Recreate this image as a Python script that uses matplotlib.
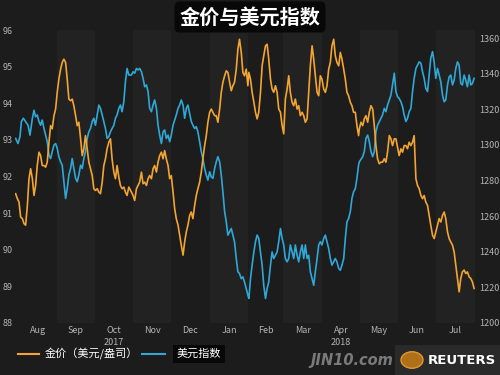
import datetime as dt
import numpy as np
import matplotlib
matplotlib.use("Agg")
import matplotlib.pyplot as plt
import matplotlib.dates as mdates
from matplotlib.patches import Rectangle, Circle
from matplotlib.lines import Line2D

plt.rcParams['font.family'] = ['Noto Sans CJK SC', 'DejaVu Sans']

title = "金价与美元指数"
gold_label = "金价（美元/盎司）"
dxy_label = "美元指数"
month_labels = ['Aug', 'Sep', 'Oct', 'Nov', 'Dec', 'Jan', 'Feb', 'Mar', 'Apr', 'May', 'Jun', 'Jul']
year_labels = ['2017', '2018']
left_ticks = [88, 89, 90, 91, 92, 93, 94, 95, 96]
right_ticks = [1200, 1220, 1240, 1260, 1280, 1300, 1320, 1340, 1360]

# days since 2017-08-01
dxy_days = [-2.3, -0.4, 1.2, 2.3, 3.9, 5.7, 7.6, 9.2, 11.1, 12.4, 13.7, 15.0, 16.4, 17.7, 19.0, 20.4,
            21.7, 23.0, 24.4, 25.7, 27.0, 28.4, 29.7, 31.0, 32.3, 33.7, 35.0, 36.3, 37.7, 39.0, 40.3,
            41.7, 43.0, 44.3, 45.7, 47.0, 48.3, 49.7, 51.0, 52.3, 53.6, 55.0, 56.3, 57.6, 59.0, 60.3,
            61.6, 63.0, 64.3, 65.6, 67.0, 68.3, 69.6, 70.9, 72.3, 73.6, 74.9, 76.3, 77.6, 78.9, 80.3,
            81.6, 82.9, 84.3, 85.6, 86.9, 88.3,
            90.4, 91.7, 93.0, 94.4, 95.7, 97.0, 98.4, 99.7, 101.0, 102.4, 103.7, 105.0, 106.4, 107.7,
            109.0, 110.4, 111.7, 113.0, 114.4, 115.7, 117.0, 118.3, 119.7, 121.0, 122.3, 123.7, 125.0,
            126.3, 127.7, 129.0, 130.3, 131.7, 133.0, 134.3, 135.6, 137.0, 138.3, 139.6, 141.0, 142.3,
            143.6, 145.0, 146.3, 147.6, 149.0, 150.3, 151.6, 153.0, 154.3, 155.6, 157.0, 158.3, 159.6,
            161.0, 162.3, 163.6, 165.0, 166.3, 167.6, 169.0, 170.3, 171.6, 172.9, 174.3, 175.6, 176.9,
            178.3, 179.6, 180.9, 182.3, 183.6,
            184.4, 185.7, 187.0, 188.4, 189.7, 191.0, 192.3, 193.7, 195.0, 196.3, 197.7, 199.0, 200.3,
            201.7, 203.0, 204.3, 205.7, 207.0, 208.3, 209.7, 211.0, 212.3, 213.6, 215.0, 216.3, 217.6,
            219.0, 220.3, 221.6, 223.0, 224.3, 225.6, 227.0, 228.3, 229.6, 231.0, 232.3, 233.6, 235.0,
            236.3, 237.6, 239.0, 240.3, 241.6, 242.9, 244.3, 245.6, 246.9, 248.3, 249.6, 250.9, 252.3,
            253.6, 254.9, 256.3, 257.6, 258.9, 260.3, 261.6, 262.9, 264.2, 265.6, 266.9, 268.2, 269.6,
            270.9, 272.2,
            272.8, 275.5, 276.8, 278.1, 279.5, 280.8, 282.1, 283.5, 284.8, 286.1, 287.4, 288.8, 290.1,
            291.4, 292.8, 294.1, 295.4, 296.8, 298.1, 299.4, 300.8, 302.1, 303.4, 304.7, 306.1, 307.4,
            308.7, 310.1, 311.4, 312.7, 314.1, 315.4, 316.7, 318.1, 319.4, 320.7, 322.1, 323.4, 324.7,
            326.0, 327.4, 328.7, 330.0, 331.4, 332.7, 334.0, 335.4, 336.7, 338.0, 339.4, 340.7, 342.0,
            343.4, 344.7, 346.0, 347.4, 348.7, 350.0, 351.4, 352.7, 354.0, 355.3, 356.7, 358.0, 359.3,
            360.7, 362.0, 363.3, 364.7]
dxy_vals = [93.04, 92.90, 93.09, 93.50, 93.59, 93.50, 93.40, 93.13, 93.59, 93.81, 93.63, 93.68, 93.50,
            93.40, 93.54, 93.31, 93.13, 92.95, 92.58, 92.49, 92.68, 92.86, 92.90, 92.77, 92.54, 92.40,
            92.31, 91.86, 91.40, 91.67, 92.04, 92.22, 92.49, 92.22, 91.95, 91.86, 92.04, 92.31, 92.22,
            92.49, 92.68, 93.04, 93.22, 93.31, 93.50, 93.59, 93.40, 93.68, 93.95, 93.86, 93.68, 93.50,
            93.31, 93.04, 93.09, 93.22, 93.31, 93.40, 93.59, 93.68, 93.86, 93.95, 93.77, 94.04, 94.59,
            94.95, 94.77,
            94.77, 94.86, 94.82, 94.95, 94.91, 94.95, 94.86, 94.68, 94.45, 94.50, 94.32, 93.86, 93.77,
            93.95, 94.09, 93.86, 93.40, 93.13, 92.90, 93.22, 93.27, 93.04, 93.13, 92.95, 93.13, 93.40,
            93.54, 93.68, 93.86, 93.95, 94.09, 93.95, 93.59, 93.86, 93.95, 93.72, 93.50, 93.40, 93.31,
            93.36, 93.22, 92.95, 92.68, 92.49, 92.22, 92.04, 91.90, 92.13, 91.99, 91.95, 92.22, 92.40,
            92.54, 92.40, 92.04, 91.58, 91.04, 90.76, 90.40, 90.49, 90.58, 90.40, 90.22, 89.76, 89.40,
            89.35, 89.21, 89.26, 89.12, 88.94, 88.76,
            88.67, 89.21, 89.58, 89.94, 90.22, 90.40, 90.31, 89.94, 89.58, 89.03, 88.67, 88.94, 89.12,
            89.58, 89.94, 89.76, 89.85, 89.94, 90.22, 90.58, 90.31, 90.13, 89.76, 89.67, 89.76, 90.13,
            89.94, 89.76, 90.13, 89.85, 89.67, 89.94, 90.13, 89.76, 90.13, 89.76, 89.85, 89.40, 89.21,
            89.03, 89.40, 89.76, 90.13, 90.22, 90.13, 90.31, 90.40, 90.22, 90.03, 89.76, 89.58, 89.67,
            89.76, 89.67, 89.49, 89.44, 89.58, 89.76, 90.31, 90.76, 90.85, 91.04, 91.40, 91.58, 91.67,
            91.95, 92.31,
            92.40, 92.54, 92.68, 93.04, 93.13, 92.95, 92.68, 92.54, 92.68, 93.22, 93.40, 93.50, 93.59,
            93.68, 93.86, 93.77, 93.95, 94.09, 94.22, 94.50, 94.82, 94.32, 94.18, 94.13, 94.04, 93.91,
            93.68, 93.50, 93.59, 93.77, 93.86, 94.32, 94.68, 94.95, 95.04, 95.13, 95.09, 94.86, 94.68,
            94.41, 94.32, 94.77, 95.23, 95.41, 95.13, 94.68, 94.95, 94.77, 94.59, 94.22, 94.04, 94.09,
            94.50, 94.72, 94.77, 94.50, 94.63, 94.95, 95.13, 95.04, 94.54, 94.50, 94.77, 94.63, 94.45,
            94.77, 94.50, 94.54, 94.68]

gold_days = [-2.3, -0.9, 0.4, 1.7, 3.1, 4.4, 5.7, 7.1, 8.4, 9.7, 11.1, 12.4, 13.7, 15.0, 16.4, 17.7,
             19.0, 20.4, 21.7, 23.0, 24.4, 25.7, 27.0, 28.4, 29.7, 31.0, 32.3, 33.7, 35.0, 36.3, 37.7,
             39.0, 40.3, 41.7, 43.0, 44.3, 45.7, 47.0, 48.3, 49.7, 51.0, 52.3, 53.6, 55.0, 56.3, 57.6,
             59.0, 60.3, 61.6, 63.0, 64.3, 65.6, 67.0, 68.3, 69.6, 70.9, 72.3, 73.6, 74.9, 76.3, 77.6,
             78.9, 80.3, 81.6, 82.9, 84.3, 85.6, 86.9, 88.3,
             90.4, 91.7, 93.0, 94.4, 95.7, 97.0, 98.4, 99.7, 101.0, 102.4, 103.7, 105.0, 106.4, 107.7,
             109.0, 110.4, 111.7, 113.0, 114.4, 115.7, 117.0, 118.3, 119.7, 121.0, 122.3, 123.7, 125.0,
             126.3, 127.7, 129.0, 130.3, 131.7, 133.0, 134.3, 135.6, 137.0, 138.3, 139.6, 141.0, 142.3,
             143.6, 145.0, 146.3, 147.6, 149.0, 150.3, 151.6, 153.0, 154.3, 155.6, 157.0, 158.3, 159.6,
             161.0, 162.3, 163.6, 165.0, 166.3, 167.6, 169.0, 170.3, 171.6, 172.9, 174.3, 175.6, 176.9,
             178.3, 179.6, 180.9, 182.3, 183.6,
             184.4, 185.7, 187.0, 188.4, 189.7, 191.0, 192.3, 193.7, 195.0, 196.3, 197.7, 199.0, 200.3,
             201.7, 203.0, 204.3, 205.7, 207.0, 208.3, 209.7, 211.0, 212.3, 213.6, 215.0, 216.3, 217.6,
             219.0, 220.3, 221.6, 223.0, 224.3, 225.6, 227.0, 228.3, 229.6, 231.0, 232.3, 233.6, 235.0,
             236.3, 237.6, 239.0, 240.3, 241.6, 242.9, 244.3, 245.6, 246.9, 248.3, 249.6, 250.9, 252.3,
             253.6, 254.9, 256.3, 257.6, 258.9, 260.3, 261.6, 262.9, 264.2, 265.6, 266.9, 268.2, 269.6,
             270.9, 272.2,
             272.8, 274.1, 275.5, 276.8, 278.1, 279.5, 280.8, 282.1, 283.5, 284.8, 286.1, 287.4, 288.8,
             290.1, 291.4, 292.8, 294.1, 295.4, 296.8, 298.1, 299.4, 300.8, 302.1, 303.4, 304.7, 306.1,
             307.4, 308.7, 310.1, 311.4, 312.7, 314.1, 315.4, 316.7, 318.1, 319.4, 320.7, 322.1, 323.4,
             324.7, 326.0, 327.4, 328.7, 330.0, 331.4, 332.7, 334.0, 335.4, 336.7, 338.0, 339.4, 340.7,
             342.0, 343.4, 344.7, 346.0, 347.4, 348.7, 350.0, 351.4, 352.7, 354.0, 355.3, 356.7, 358.0,
             359.3, 360.7, 362.0, 363.3, 364.7]
gold_vals = [1272.6, 1269.8, 1267.9, 1259.5, 1258.6, 1255.8, 1254.9, 1266.0, 1281.0, 1286.6, 1281.0,
             1271.6, 1277.2, 1288.4, 1295.9, 1294.0, 1288.4, 1288.4, 1287.5, 1290.3, 1301.5, 1310.8,
             1309.0, 1316.4, 1320.1, 1329.5, 1336.9, 1342.5, 1346.3, 1348.1, 1346.3, 1336.9, 1325.7,
             1324.8, 1325.7, 1322.0, 1316.4, 1310.8, 1312.7, 1303.4, 1294.0, 1297.8, 1305.2, 1297.8,
             1290.3, 1286.6, 1282.8, 1275.4, 1274.4, 1275.4, 1273.5, 1272.6, 1279.1, 1288.4, 1292.2,
             1297.8, 1301.5, 1303.4, 1292.2, 1284.7, 1281.0, 1288.4, 1281.9, 1277.2, 1275.4, 1276.3,
             1273.5, 1271.6, 1276.3,
             1273.5, 1271.6, 1268.8, 1275.4, 1277.2, 1279.1, 1284.7, 1278.2, 1279.1, 1277.2, 1281.0,
             1282.8, 1281.0, 1286.6, 1288.4, 1284.7, 1290.3, 1294.0, 1295.9, 1292.2, 1296.8, 1292.2,
             1288.4, 1281.0, 1282.8, 1273.5, 1264.2, 1258.6, 1254.9, 1249.3, 1243.7, 1238.1, 1245.5,
             1251.1, 1254.9, 1260.4, 1262.3, 1258.6, 1266.0, 1271.6, 1275.4, 1279.1, 1284.7, 1292.2,
             1299.6, 1305.2, 1312.7, 1318.3, 1320.1, 1318.3, 1316.4, 1316.4, 1312.7, 1320.1, 1329.5,
             1335.1, 1338.8, 1341.6, 1340.7, 1335.1, 1330.4, 1333.2, 1335.1, 1342.5, 1353.7, 1359.3,
             1351.9, 1340.7, 1338.8, 1342.5, 1333.2,
             1340.7, 1336.9, 1329.5, 1323.9, 1318.3, 1314.6, 1318.3, 1329.5, 1344.4, 1350.0, 1355.6,
             1356.5, 1348.1, 1336.9, 1331.3, 1329.5, 1333.2, 1329.5, 1320.1, 1318.3, 1310.8, 1306.2,
             1325.7, 1331.3, 1338.8, 1329.5, 1323.9, 1322.0, 1325.7, 1320.1, 1322.0, 1316.4, 1318.3,
             1316.4, 1312.7, 1314.6, 1329.5, 1344.4, 1355.6, 1348.1, 1338.8, 1329.5, 1327.6, 1338.8,
             1336.9, 1331.3, 1329.5, 1333.2, 1342.5, 1346.3, 1355.6, 1359.3, 1350.0, 1346.3, 1344.4,
             1351.9, 1348.1, 1342.5, 1336.9, 1329.5, 1327.6, 1323.9, 1322.0, 1318.3, 1318.3, 1310.8,
             1305.2,
             1309.0, 1312.7, 1310.8, 1314.6, 1316.4, 1312.7, 1318.3, 1322.0, 1320.1, 1310.8, 1299.6,
             1292.2, 1289.4, 1290.3, 1290.3, 1292.2, 1290.3, 1295.9, 1305.2, 1303.4, 1299.6, 1303.4,
             1303.4, 1298.7, 1294.0, 1297.8, 1295.9, 1299.6, 1299.6, 1297.8, 1301.5, 1299.6, 1301.5,
             1305.2, 1281.0, 1277.2, 1275.4, 1271.6, 1269.8, 1271.6, 1267.9, 1266.0, 1260.4, 1254.9,
             1249.3, 1247.4, 1251.1, 1254.9, 1258.6, 1256.7, 1260.4, 1262.3, 1258.6, 1251.1, 1247.4,
             1245.5, 1243.7, 1239.9, 1232.5, 1225.0, 1217.5, 1225.0, 1228.7, 1229.7, 1227.8, 1228.7,
             1225.9, 1225.0, 1223.1, 1219.4]

BG = '#1c1c1c'
BAND = '#222222'
GOLD_C = '#F4A431'
DXY_C = '#2FA8D8'
TICK_C = '#b4b4b4'

base = mdates.date2num(dt.datetime(2017, 8, 1))
month_starts = [mdates.date2num(dt.datetime(2017 + (7 + i) // 12, (7 + i) % 12 + 1, 1)) for i in range(13)]
month_centers = [(month_starts[i] + month_starts[i + 1]) / 2 for i in range(12)]

fig = plt.figure(figsize=(5, 3.75), dpi=100, facecolor=BG)
ax = fig.add_axes([15 / 500, 1 - 323 / 375, 462 / 500, 293 / 375])
ax.set_facecolor(BG)
ax2 = ax.twinx()

for i in range(1, 12, 2):
    ax.axvspan(month_starts[i], month_starts[i + 1], color=BAND, lw=0, zorder=0)

ax.plot(base + np.array(dxy_days), dxy_vals, color=DXY_C, lw=1.2, zorder=3)
ax2.plot(base + np.array(gold_days), gold_vals, color=GOLD_C, lw=1.2, zorder=3)

ax.set_xlim(base - 2.8, base + 367)
ax.set_ylim(88, 96)
ax2.set_ylim(1200, 1364.5)
ax.set_yticks(left_ticks)
ax.set_yticklabels([str(v) for v in left_ticks])
ax2.set_yticks(right_ticks)
ax2.set_yticklabels([str(v) for v in right_ticks])
ax.set_xticks(month_centers)
ax.set_xticklabels(month_labels)

for a in (ax, ax2):
    for s in a.spines.values():
        s.set_visible(False)
    a.tick_params(length=0, colors=TICK_C, labelsize=6.5)
ax.tick_params(axis='y', pad=1.5)
ax2.tick_params(axis='y', pad=1.5)
ax.tick_params(axis='x', pad=2.5)

ax.text(month_centers[2], -0.065, year_labels[0], transform=ax.get_xaxis_transform(),
        ha='center', va='center', color=TICK_C, fontsize=6.5)
ax.text(month_centers[8], -0.065, year_labels[1], transform=ax.get_xaxis_transform(),
        ha='center', va='center', color=TICK_C, fontsize=6.5)

# title
fig.text(0.5, 1 - 17 / 375, title, ha='center', va='center', color='white', fontsize=14.5,
         fontweight='bold', bbox=dict(boxstyle='round,pad=0.25', facecolor='#080808', edgecolor='none'))

# legend
fig.add_artist(Line2D([18 / 500, 39 / 500], [1 - 354 / 375] * 2, color=GOLD_C, lw=1.5))
fig.text(45 / 500, 1 - 354 / 375, gold_label, ha='left', va='center', color='white', fontsize=8)
fig.add_artist(Line2D([142 / 500, 165 / 500], [1 - 354 / 375] * 2, color=DXY_C, lw=1.5))
fig.text(177 / 500, 1 - 354 / 375, dxy_label, ha='left', va='center', color='white', fontsize=8,
         bbox=dict(boxstyle='square,pad=0.35', facecolor='#080808', edgecolor='none'))

# watermark / logo
fig.text(352 / 500, 1 - 361 / 375, "JIN10.com", ha='center', va='center', color='#7a7a7a',
         fontsize=10.5, fontweight='bold', style='italic', family='DejaVu Sans')
fig.add_artist(Rectangle((395 / 500, 0), 105 / 500, 30 / 375, transform=fig.transFigure,
                         facecolor='#2a2a2a', edgecolor='none'))
fig.add_artist(Circle((412 / 500, 1 - 360 / 375), 0.022, transform=fig.transFigure,
                      facecolor='#b07018', edgecolor='#e09a30', lw=1))
fig.text(462 / 500, 1 - 360 / 375, "REUTERS", ha='center', va='center', color='white',
         fontsize=9.5, fontweight='bold', family='DejaVu Sans')

fig.savefig('out.png', dpi=100, facecolor=BG)
